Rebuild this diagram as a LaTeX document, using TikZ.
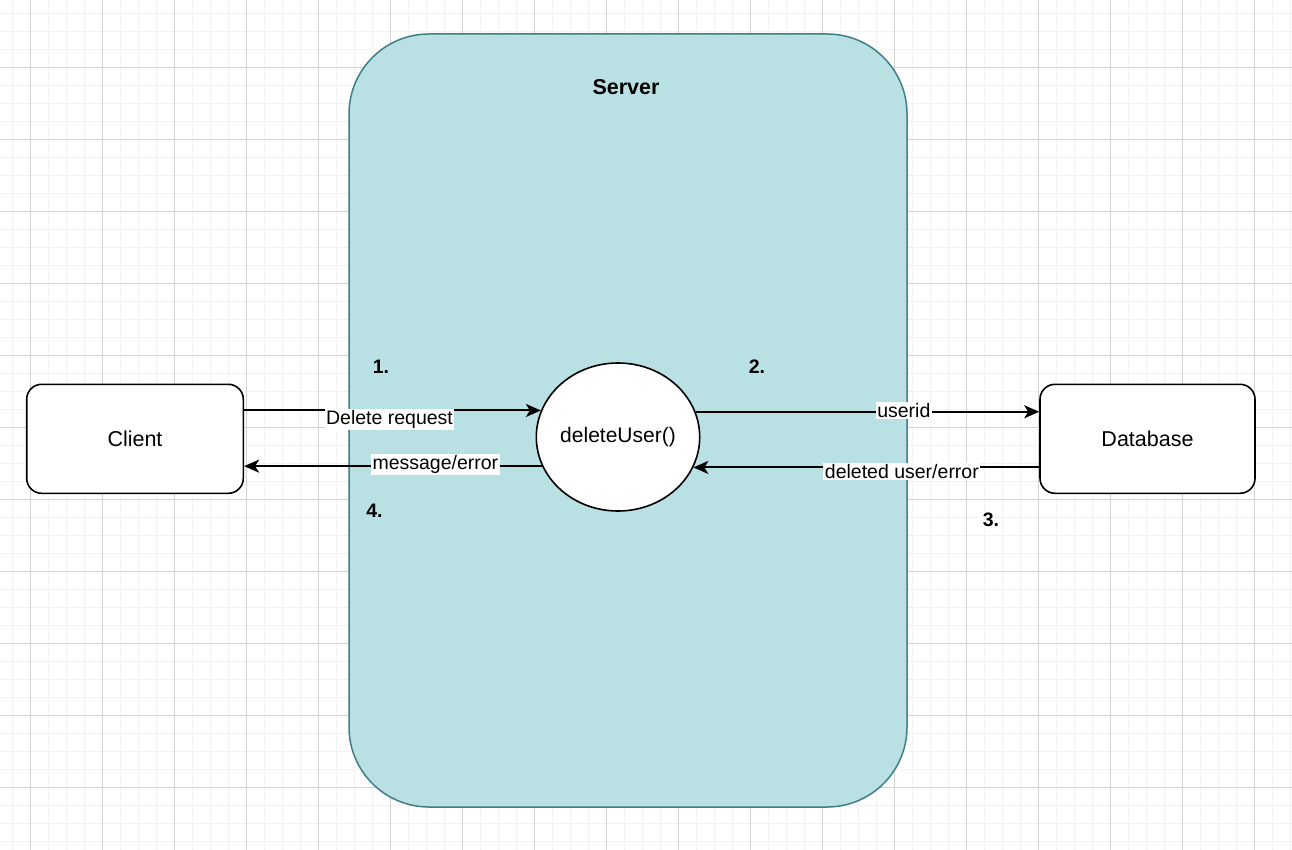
\documentclass[tikz,border=0pt]{standalone}
\usepackage{fontspec}
\setmainfont{Liberation Sans}
\usetikzlibrary{shapes.geometric,arrows.meta}
\definecolor{gridminor}{HTML}{F2F2F2}
\definecolor{gridmajor}{HTML}{D2D2D2}
\definecolor{serverfill}{HTML}{B9E0E3}
\definecolor{serverline}{HTML}{3F7F88}
\tikzset{
  minorline/.style={draw=gridminor,line width=1.2pt},
  majorline/.style={draw=gridmajor,line width=1pt},
  boxnode/.style={draw=black,line width=1.6pt,rounded corners=15pt,fill=white,
    inner sep=0pt,font=\fontsize{21.5}{26}\selectfont},
  procnode/.style={draw=black,line width=1.6pt,fill=white,ellipse,inner sep=0pt,
    minimum width=162pt,minimum height=148pt,font=\fontsize{21}{26}\selectfont},
  flow/.style={draw=black,line width=2pt,-{Stealth[length=15pt,width=13pt,inset=4pt]}},
  elabel/.style={fill=white,inner sep=1.5pt,font=\fontsize{19.5}{23}\selectfont},
  numlabel/.style={inner sep=0pt,font=\fontsize{19.5}{23}\selectfont\bfseries},
}
\begin{document}
\begin{tikzpicture}[x=1pt,y=-1pt]
\useasboundingbox (0,0) rectangle (1292,850);
\fill[white] (0,0) rectangle (1292,850);
% grid
\foreach \i in {0,...,71} \draw[minorline] ({12.3+18*\i},0) -- ({12.3+18*\i},850);
\foreach \i in {0,...,47} \draw[minorline] (0,{13.3+18*\i}) -- (1292,{13.3+18*\i});
\foreach \i in {0,...,17} \draw[majorline] ({30.3+72*\i},0) -- ({30.3+72*\i},850);
\foreach \i in {0,...,11} \draw[majorline] (0,{67.3+72*\i}) -- (1292,{67.3+72*\i});
% server
\node[draw=serverline,fill=serverfill,line width=1.5pt,rounded corners=80pt,
  minimum width=558pt,minimum height=773pt,inner sep=0pt] (server) at (628,420.5) {};
\node[numlabel,font=\fontsize{21.5}{26}\selectfont\bfseries] (servertitle) at (626,87) {Server};
% nodes
\node[boxnode,minimum width=216.6pt,minimum height=109pt] (client) at (135,438.8) {Client};
\node[boxnode,minimum width=215pt,minimum height=109pt] (db) at (1147.5,438.8) {Database};
\node[procnode] (proc) at (618,437) {deleteUser()};
% connectors
\draw[flow] (client.east |- proc.161.8) -- node[elabel,pos=0.49,yshift=-9pt] {Delete request} (proc.161.8);
\draw[flow] (proc.18.2) -- node[elabel,pos=0.606,yshift=1pt] {userid} (db.west |- proc.18.2);
\draw[flow] (db.west |- proc.338.7) -- node[elabel,pos=0.397,yshift=-4pt] {deleted user/error} (proc.338.7);
\draw[flow] (proc.201.3) -- node[elabel,pos=0.358,yshift=2pt] {message/error} (client.east |- proc.201.3);
% step numbers
\node[numlabel] (n1) at (381,367) {1.};
\node[numlabel] (n2) at (757,367) {2.};
\node[numlabel] (n3) at (991,520) {3.};
\node[numlabel] (n4) at (374.5,511) {4.};
\end{tikzpicture}
\end{document}
